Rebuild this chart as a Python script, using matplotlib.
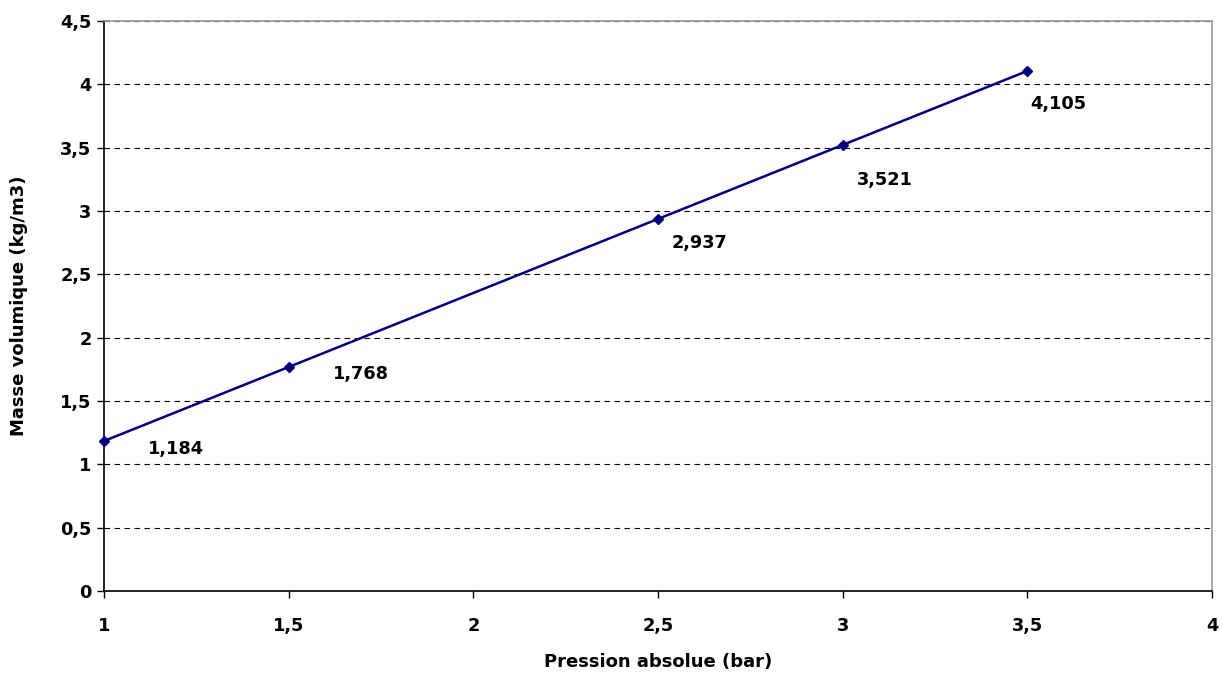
import matplotlib
matplotlib.use("Agg")
import matplotlib.pyplot as plt
from matplotlib.ticker import FuncFormatter, MultipleLocator

# data
pression = [1, 1.5, 2.5, 3, 3.5]
masse = [1.184, 1.768, 2.937, 3.521, 4.105]
etiquettes = ["1,184", "1,768", "2,937", "3,521", "4,105"]
# label offsets in points (dx, dy)
label_offsets = [(32, -6), (32, -5), (10, -17), (10, -25), (2, -24)]

fig = plt.figure(figsize=(12.23, 6.75), dpi=100)
ax = fig.add_axes([0.085, 0.1244, 0.906, 0.8446])

ax.plot(pression, masse, color="#000080", linewidth=1.8, marker="D",
        markersize=5.5, zorder=3, clip_on=False)

for x, y, txt, off in zip(pression, masse, etiquettes, label_offsets):
    ax.annotate(txt, (x, y), xytext=off, textcoords="offset points",
                ha="left", va="center", fontsize=12.8, fontweight="bold")

ax.set_xlim(1, 4)
ax.set_ylim(0, 4.5)
ax.xaxis.set_major_locator(MultipleLocator(0.5))
ax.yaxis.set_major_locator(MultipleLocator(0.5))

fmt = FuncFormatter(lambda v, p: f"{v:g}".replace(".", ","))
ax.xaxis.set_major_formatter(fmt)
ax.yaxis.set_major_formatter(fmt)

ax.grid(axis="y", color="black", linestyle=(0, (5, 4)), linewidth=0.8)
ax.set_axisbelow(True)

for s in ["top", "right"]:
    ax.spines[s].set_color("#999999")
    ax.spines[s].set_linewidth(1.2)
for s in ["left", "bottom"]:
    ax.spines[s].set_color("black")
    ax.spines[s].set_linewidth(1.2)

ax.tick_params(axis="both", direction="out", length=5, width=1, labelsize=12.8)
ax.tick_params(axis="x", pad=14)
ax.tick_params(axis="y", pad=4)
for lbl in ax.get_xticklabels() + ax.get_yticklabels():
    lbl.set_fontweight("bold")

ax.set_xlabel("Pression absolue (bar)", fontsize=13, fontweight="bold", labelpad=13)
ax.set_ylabel("Masse volumique (kg/m3)", fontsize=13, fontweight="bold", labelpad=23)

fig.savefig("out.png", dpi=100)
